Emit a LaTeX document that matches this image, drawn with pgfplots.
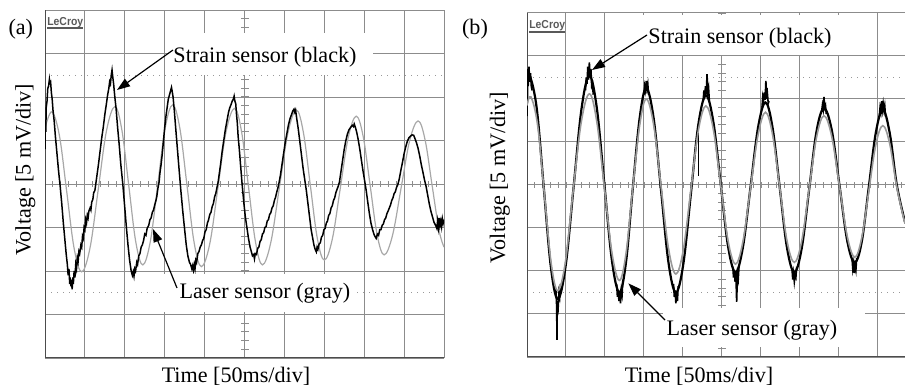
\documentclass[border=0pt]{standalone}
\usepackage{fontspec}
\setmainfont{Liberation Serif}
\newfontfamily\lecroyfont{Liberation Sans}
\usepackage{pgfplots}
\pgfplotsset{compat=1.18}
\usetikzlibrary{arrows.meta}
\definecolor{gridc}{gray}{0.55}
\definecolor{framec}{gray}{0.3}
\definecolor{dotc}{gray}{0.6}
\definecolor{graya}{gray}{0.66}
\definecolor{grayb}{gray}{0.6}
\pgfplotsset{osc/.style={
  scale only axis, xmin=0, ymin=-4, ymax=4, no markers,
  xtick={0,...,10}, ytick={-4,...,4}, xticklabels={}, yticklabels={},
  major tick length=0pt, grid=major,
  grid style={draw=gridc, line width=0.5bp},
  axis line style={draw=none}, clip=true,
}}
\begin{document}
\begin{tikzpicture}
\useasboundingbox (0,0) rectangle (452.5bp,192.5bp);
% ---------------- panel (a)
\begin{axis}[osc, at={(22.5bp,13.5bp)}, anchor=south west, width=199.5bp, height=174bp, xmax=10]
\draw[dotc, line width=0.6bp, dash pattern=on 0.6bp off 2.4bp] (axis cs:0,2.5) -- (axis cs:10,2.5);
\draw[dotc, line width=0.6bp, dash pattern=on 0.6bp off 2.4bp] (axis cs:0,-2.5) -- (axis cs:10,-2.5);
\draw[gridc, line width=2.6bp, dash pattern=on 0.5bp off 3.49bp, dash phase=0.25bp] (axis cs:0,0) -- (axis cs:10,0);
\draw[gridc, line width=4bp, dash pattern=on 0.5bp off 3.85bp, dash phase=0.25bp] (axis cs:5,-4) -- (axis cs:5,4);
\draw[gridc, line width=0.5bp] (rel axis cs:0,1) -- (rel axis cs:1,1) -- (rel axis cs:1,0);
\draw[framec, line width=0.6bp] (rel axis cs:0,1) -- (rel axis cs:0,0) -- (rel axis cs:1,0);
% laser (gray)
\addplot[graya, line width=0.6bp, smooth, tension=0.6] coordinates {
(0,1.28)(0.17,1.66)(0.36,1.12)(0.545,-0.18)(0.73,-1.48)(0.92,-2.02)(1.13,-1.46)(1.335,-0.12)(1.54,1.22)(1.75,1.78)(1.925,1.25)(2.1,-0.04)(2.275,-1.33)(2.45,-1.86)(2.64,-1.32)(2.825,-0.02)(3.01,1.28)(3.2,1.82)(3.38,1.28)(3.56,-0.04)(3.74,-1.36)(3.92,-1.9)(4.13,-1.37)(4.335,-0.08)(4.54,1.21)(4.75,1.74)(4.925,1.21)(5.1,-0.06)(5.275,-1.33)(5.45,-1.86)(5.66,-1.34)(5.875,-0.08)(6.09,1.18)(6.3,1.7)(6.475,1.19)(6.65,-0.03)(6.825,-1.25)(7.0,-1.75)(7.2,-1.27)(7.4,-0.1)(7.6,1.07)(7.8,1.56)(7.975,1.09)(8.15,-0.04)(8.325,-1.17)(8.5,-1.63)(8.71,-1.18)(8.925,-0.09)(9.14,1.0)(9.35,1.45)(9.525,1.02)(9.7,-0.02)(9.875,-1.06)(10.0,-1.45)};
% strain (black)
\addplot[black, line width=0.75bp] coordinates {
(0,0.8)(0.01,1.45)(0.02,1.2)(0.03,1.75)(0.05,1.9)(0.07,2.2)(0.09,2.25)(0.11,2.4)(0.12,2.32)(0.14,2.35)(0.16,2.1)(0.18,1.95)(0.2,1.7)(0.23,1.45)(0.26,1.1)(0.3,0.7)(0.34,0.3)(0.38,-0.05)(0.42,-0.45)(0.46,-0.9)(0.5,-1.3)(0.53,-1.6)(0.56,-1.85)(0.58,-2.1)(0.6,-1.95)(0.62,-2.3)(0.63,-2.15)(0.65,-2.35)(0.66,-2.2)(0.68,-2.42)(0.7,-2.15)(0.71,-2.3)(0.73,-2.0)(0.75,-2.15)(0.77,-1.85)(0.79,-1.95)(0.81,-1.7)(0.83,-1.78)(0.85,-1.55)(0.87,-1.6)(0.9,-1.4)(0.92,-1.45)(0.94,-1.2)(0.96,-1.25)(0.98,-1.0)(1.0,-1.05)(1.02,-0.82)(1.04,-0.9)(1.06,-0.72)(1.08,-0.78)(1.1,-0.62)(1.13,-0.55)(1.15,-0.6)(1.17,-0.42)(1.2,-0.35)(1.22,-0.2)(1.25,-0.15)(1.28,0.05)(1.31,0.25)(1.34,0.45)(1.38,0.75)(1.42,1.05)(1.46,1.3)(1.5,1.6)(1.54,1.85)(1.57,2.05)(1.6,2.2)(1.62,2.35)(1.64,2.3)(1.66,2.5)(1.68,2.62)(1.7,2.45)(1.72,2.3)(1.75,2.0)(1.78,1.75)(1.82,1.3)(1.86,0.9)(1.9,0.45)(1.95,0.0)(2.0,-0.55)(2.04,-1.0)(2.08,-1.4)(2.12,-1.75)(2.16,-2.0)(2.19,-2.1)(2.21,-2.02)(2.23,-2.12)(2.25,-1.95)(2.27,-2.0)(2.3,-1.8)(2.32,-1.85)(2.35,-1.65)(2.38,-1.6)(2.41,-1.45)(2.44,-1.4)(2.47,-1.3)(2.5,-1.15)(2.53,-1.18)(2.56,-1.02)(2.6,-0.95)(2.63,-0.82)(2.66,-0.78)(2.69,-0.65)(2.72,-0.6)(2.75,-0.48)(2.78,-0.38)(2.8,-0.3)(2.83,-0.1)(2.86,0.05)(2.88,0.25)(2.91,0.45)(2.94,0.7)(2.97,1.0)(3.0,1.3)(3.03,1.55)(3.06,1.75)(3.09,1.95)(3.12,2.05)(3.15,2.15)(3.17,2.22)(3.19,2.12)(3.21,2.0)(3.24,1.7)(3.27,1.35)(3.31,0.9)(3.35,0.45)(3.4,-0.1)(3.45,-0.6)(3.5,-1.05)(3.54,-1.4)(3.58,-1.65)(3.62,-1.8)(3.65,-1.85)(3.68,-1.95)(3.7,-1.88)(3.72,-1.98)(3.74,-1.85)(3.76,-1.95)(3.78,-1.75)(3.8,-1.8)(3.83,-1.6)(3.86,-1.55)(3.89,-1.45)(3.92,-1.4)(3.95,-1.3)(3.98,-1.25)(4.01,-1.1)(4.04,-1.05)(4.07,-0.9)(4.1,-0.82)(4.13,-0.7)(4.16,-0.65)(4.19,-0.52)(4.22,-0.45)(4.25,-0.3)(4.28,-0.22)(4.31,-0.08)(4.34,0.05)(4.37,0.25)(4.4,0.45)(4.44,0.75)(4.48,1.0)(4.52,1.25)(4.56,1.45)(4.6,1.65)(4.63,1.75)(4.66,1.82)(4.69,1.9)(4.72,1.95)(4.74,2.02)(4.76,1.9)(4.78,1.85)(4.8,1.6)(4.82,1.4)(4.84,1.1)(4.87,0.8)(4.9,0.45)(4.94,0.0)(4.98,-0.4)(5.02,-0.75)(5.06,-1.0)(5.1,-1.25)(5.14,-1.45)(5.17,-1.55)(5.2,-1.65)(5.23,-1.62)(5.25,-1.72)(5.27,-1.6)(5.3,-1.62)(5.33,-1.48)(5.36,-1.45)(5.39,-1.32)(5.42,-1.28)(5.45,-1.15)(5.48,-1.12)(5.51,-1.0)(5.54,-0.98)(5.57,-0.85)(5.6,-0.82)(5.63,-0.7)(5.66,-0.66)(5.69,-0.55)(5.72,-0.5)(5.75,-0.38)(5.78,-0.3)(5.81,-0.18)(5.84,-0.08)(5.87,0.05)(5.9,0.2)(5.94,0.45)(5.98,0.7)(6.02,0.95)(6.06,1.15)(6.1,1.35)(6.14,1.5)(6.18,1.6)(6.21,1.68)(6.24,1.72)(6.26,1.65)(6.28,1.7)(6.31,1.5)(6.35,1.25)(6.39,0.95)(6.43,0.65)(6.47,0.35)(6.51,0.1)(6.55,-0.15)(6.59,-0.45)(6.63,-0.75)(6.67,-1.05)(6.71,-1.25)(6.74,-1.4)(6.77,-1.5)(6.8,-1.56)(6.82,-1.45)(6.84,-1.5)(6.87,-1.38)(6.9,-1.35)(6.93,-1.22)(6.96,-1.18)(6.99,-1.05)(7.02,-1.02)(7.05,-0.9)(7.08,-0.85)(7.11,-0.72)(7.14,-0.68)(7.17,-0.55)(7.2,-0.5)(7.23,-0.38)(7.26,-0.32)(7.29,-0.2)(7.32,-0.12)(7.35,-0.05)(7.38,0.05)(7.42,0.3)(7.46,0.55)(7.5,0.8)(7.54,1.0)(7.58,1.15)(7.62,1.25)(7.66,1.3)(7.7,1.35)(7.73,1.32)(7.75,1.38)(7.78,1.3)(7.81,1.2)(7.85,1.02)(7.89,0.8)(7.93,0.55)(7.97,0.3)(8.01,0.08)(8.05,-0.15)(8.09,-0.42)(8.13,-0.68)(8.17,-0.9)(8.21,-1.05)(8.25,-1.17)(8.28,-1.22)(8.3,-1.25)(8.33,-1.15)(8.36,-1.18)(8.39,-1.05)(8.42,-1.05)(8.45,-0.95)(8.48,-0.92)(8.51,-0.82)(8.54,-0.78)(8.57,-0.68)(8.6,-0.62)(8.63,-0.55)(8.66,-0.48)(8.69,-0.38)(8.72,-0.32)(8.75,-0.22)(8.78,-0.18)(8.81,-0.08)(8.84,-0.02)(8.88,0.12)(8.92,0.32)(8.96,0.5)(9.0,0.7)(9.04,0.85)(9.08,0.98)(9.12,1.06)(9.16,1.1)(9.2,1.13)(9.24,1.12)(9.27,1.05)(9.31,0.95)(9.35,0.82)(9.39,0.65)(9.43,0.45)(9.47,0.28)(9.51,0.1)(9.55,-0.05)(9.59,-0.25)(9.63,-0.45)(9.67,-0.62)(9.71,-0.75)(9.75,-0.88)(9.79,-0.95)(9.82,-1.02)(9.84,-0.85)(9.86,-1.0)(9.88,-0.78)(9.9,-0.95)(9.92,-0.85)(9.94,-0.98)(9.96,-0.8)(9.98,-0.9)(10,-0.82)};
\end{axis}
% ---------------- panel (b)
\begin{axis}[osc, at={(263.5bp,14bp)}, anchor=south west, width=189bp, height=172bp, xmax=9.7]
\draw[dotc, line width=0.6bp, dash pattern=on 0.6bp off 2.4bp] (axis cs:0,2.5) -- (axis cs:9.7,2.5);
\draw[dotc, line width=0.6bp, dash pattern=on 0.6bp off 2.4bp] (axis cs:0,-2.5) -- (axis cs:9.7,-2.5);
\draw[gridc, line width=2.6bp, dash pattern=on 0.5bp off 3.4bp, dash phase=0.25bp] (axis cs:0,0) -- (axis cs:9.7,0);
\draw[gridc, line width=4bp, dash pattern=on 0.5bp off 3.8bp, dash phase=0.25bp] (axis cs:5,-4) -- (axis cs:5,4);
\draw[gridc, line width=0.5bp] (rel axis cs:0,1) -- (rel axis cs:1,1);
\draw[framec, line width=0.6bp] (rel axis cs:0,1) -- (rel axis cs:0,0) -- (rel axis cs:1,0);
% strain (black) base
\addplot[black, line width=1.1bp, smooth, tension=0.6] coordinates {
(0,2.3)(0.07,2.54)(0.25,1.78)(0.43,-0.055)(0.61,-1.89)(0.79,-2.65)(0.99,-1.89)(1.195,-0.055)(1.4,1.78)(1.6,2.54)(1.79,1.80)(1.985,0.02)(2.18,-1.76)(2.37,-2.5)(2.54,-1.80)(2.71,-0.125)(2.89,1.55)(3.06,2.25)(3.25,1.55)(3.44,-0.125)(3.63,-1.80)(3.82,-2.5)(4.0125,-1.83)(4.205,-0.21)(4.3975,1.41)(4.59,2.08)(4.78,1.48)(4.97,0.025)(5.16,-1.43)(5.35,-2.03)(5.54,-1.45)(5.735,-0.055)(5.93,1.34)(6.12,1.92)(6.3,1.34)(6.485,-0.055)(6.67,-1.45)(6.86,-2.03)(7.05,-1.47)(7.24,-0.11)(7.43,1.25)(7.62,1.78)(7.82,1.28)(8.02,-0.015)(8.22,-1.31)(8.41,-1.8)(8.59,-1.32)(8.77,-0.055)(8.95,1.21)(9.13,1.75)(9.31,1.2)(9.49,0.0)(9.7,-0.86)};
% strain noise at extremes
\addplot[black, line width=0.8bp] coordinates {(0,1.6)(0,2.2)(0.01,1.9)(0.02,2.7)(0.03,2.3)(0.05,2.75)(0.07,2.4)(0.09,2.6)(0.11,2.3)(0.13,2.2)};
\addplot[black, line width=0.8bp] coordinates {(1.5,2.2)(1.52,2.5)(1.54,2.35)(1.56,2.75)(1.58,2.45)(1.6,2.85)(1.62,2.5)(1.64,2.7)(1.66,2.3)(1.68,2.35)(1.7,2.1)};
\addplot[black, line width=0.8bp] coordinates {(0.74,-2.4)(0.76,-2.8)(0.77,-3.6)(0.775,-2.7)(0.8,-2.85)(0.82,-2.5)(0.84,-2.6)(0.86,-2.3)};
\addplot[black, line width=0.8bp] coordinates {(2.3,-2.3)(2.32,-2.6)(2.34,-2.45)(2.36,-2.7)(2.38,-2.5)(2.4,-2.75)(2.42,-2.45)(2.44,-2.55)(2.46,-2.2)};
\addplot[black, line width=0.8bp] coordinates {(3.0,2.1)(3.02,2.3)(3.04,2.2)(3.06,2.42)(3.08,2.25)(3.1,2.35)(3.12,2.1)};
\addplot[black, line width=0.8bp] coordinates {(3.76,-2.3)(3.78,-2.6)(3.8,-2.45)(3.82,-2.75)(3.84,-2.5)(3.86,-2.7)(3.88,-2.35)};
\addplot[black, line width=0.6bp] coordinates {(4.41,1.2)(4.41,0.2)};
\addplot[black, line width=0.8bp] coordinates {(4.52,1.95)(4.54,2.2)(4.56,2.05)(4.58,2.3)(4.6,2.1)(4.62,2.58)(4.64,2.15)(4.66,2.25)(4.68,1.95)};
\addplot[black, line width=0.8bp] coordinates {(5.28,-1.9)(5.3,-2.15)(5.32,-2.0)(5.34,-2.25)(5.36,-2.05)(5.38,-2.72)(5.4,-2.1)(5.42,-2.2)(5.44,-1.9)};
\addplot[black, line width=0.8bp] coordinates {(6.03,1.8)(6.05,2.05)(6.07,1.95)(6.09,2.15)(6.11,1.98)(6.13,2.42)(6.15,2.0)(6.17,2.12)(6.19,1.9)(6.21,1.95)};
\addplot[black, line width=0.8bp] coordinates {(6.8,-1.95)(6.82,-2.2)(6.84,-2.05)(6.86,-2.25)(6.88,-2.1)(6.9,-2.15)(6.92,-1.9)};
\addplot[black, line width=0.8bp] coordinates {(7.56,1.7)(7.58,1.85)(7.6,1.75)(7.62,2.05)(7.64,1.8)(7.66,1.85)(7.68,1.65)};
\addplot[black, line width=0.8bp] coordinates {(8.34,-1.7)(8.36,-1.95)(8.38,-1.82)(8.4,-2.05)(8.42,-1.88)(8.44,-1.98)(8.46,-1.7)};
\addplot[black, line width=0.8bp] coordinates {(9.04,1.6)(9.06,1.8)(9.08,1.7)(9.1,1.95)(9.12,1.75)(9.14,1.9)(9.16,1.75)(9.18,1.85)(9.2,1.6)};
% laser (gray)
\addplot[grayb, line width=0.8bp, smooth, tension=0.6] coordinates {
(0,1.85)(0.1,2.05)(0.2725,1.39)(0.445,-0.205)(0.6175,-1.80)(0.79,-2.46)(0.985,-1.79)(1.18,-0.17)(1.39,1.45)(1.6,2.12)(1.79,1.48)(1.985,-0.05)(2.18,-1.58)(2.37,-2.22)(2.54,-1.60)(2.71,-0.11)(2.89,1.38)(3.06,2.0)(3.25,1.40)(3.44,-0.035)(3.63,-1.47)(3.82,-2.07)(4.0125,-1.50)(4.205,-0.115)(4.3975,1.27)(4.59,1.84)(4.78,1.30)(4.97,0)(5.16,-1.30)(5.35,-1.84)(5.54,-1.32)(5.735,-0.075)(5.93,1.17)(6.12,1.69)(6.3,1.18)(6.485,-0.055)(6.67,-1.29)(6.86,-1.8)(7.05,-1.30)(7.24,-0.095)(7.43,1.11)(7.62,1.61)(7.82,1.13)(8.02,-0.035)(8.22,-1.20)(8.41,-1.68)(8.59,-1.23)(8.77,-0.15)(8.95,0.93)(9.13,1.38)(9.31,0.95)(9.49,-0.05)(9.7,-0.9)};
\end{axis}
% ---------------- annotations
\begin{scope}[x=1bp, y=1bp, font=\fontsize{11.1}{13}\selectfont]
\fill[white] (84,155) rectangle (186.5,176);
\fill[white] (81,36.5) rectangle (177.5,55.5);
\fill[white] (320,165) rectangle (420,185);
\fill[white] (331.5,19) rectangle (432.5,38.5);
\node[anchor=base, inner sep=0] at (132.5,161.3) {Strain sensor (black)};
\node[anchor=base, inner sep=0] at (132.5,43.3) {Laser sensor (gray)};
\node[anchor=base, inner sep=0] at (370,171) {Strain sensor (black)};
\node[anchor=base, inner sep=0] at (376,25) {Laser sensor (gray)};
\draw[line width=0.6bp, -{Triangle[length=6.5bp, width=4.5bp]}] (86.5,167.5) -- (58.5,147.5);
\draw[line width=0.6bp, -{Triangle[length=6.5bp, width=4.5bp]}] (88.5,48.5) -- (76.5,78);
\draw[line width=0.6bp, -{Triangle[length=6.5bp, width=4.5bp]}] (323.5,175) -- (296,157.5);
\draw[line width=0.6bp, -{Triangle[length=6.5bp, width=4.5bp]}] (332.5,32.5) -- (314.2,50.8);
\node[anchor=base, inner sep=0] at (10.4,175.3) {(a)};
\node[anchor=base, inner sep=0] at (237.5,175.3) {(b)};
\node[anchor=base, inner sep=0] at (118,1.2) {Time [50ms/div]};
\node[anchor=base, inner sep=0] at (349.5,1.2) {Time [50ms/div]};
\node[anchor=base, inner sep=0, rotate=90] at (15.3,107.75) {Voltage [5 mV/div]};
\node[anchor=base, inner sep=0, rotate=90] at (252.5,103.75) {Voltage [5 mV/div]};
\node[anchor=base west, inner sep=0, xscale=0.9, text=black!65, font=\lecroyfont\bfseries\fontsize{5.8}{6.5}\selectfont] at (23.5,180) {LeCroy};
\draw[black!65, line width=0.9bp] (23.5,178.3) -- (41.5,178.3);
\node[anchor=base west, inner sep=0, xscale=0.9, text=black!65, font=\lecroyfont\bfseries\fontsize{5.8}{6.5}\selectfont] at (264.5,178.2) {LeCroy};
\draw[black!65, line width=0.9bp] (264.5,176.6) -- (282.5,176.6);
\end{scope}
\end{tikzpicture}
\end{document}
